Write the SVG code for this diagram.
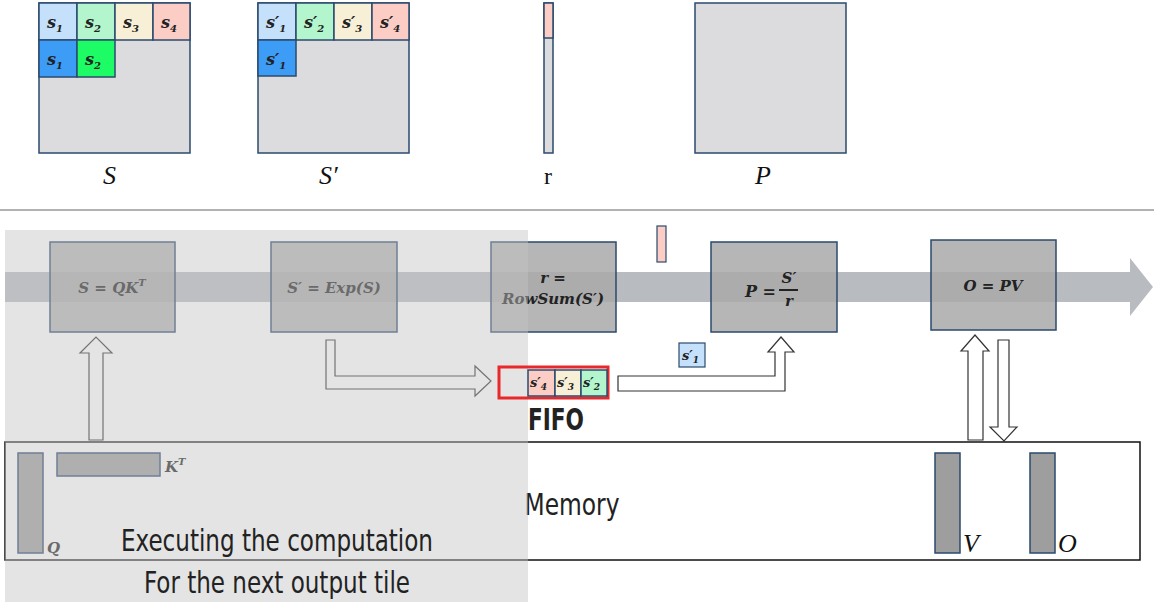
<svg xmlns="http://www.w3.org/2000/svg" width="1154" height="602" viewBox="0 0 1154 602">
<style>
.m{font-family:"DejaVu Serif","Liberation Serif",serif;font-style:italic;font-weight:bold;fill:#222}
.lab{font-family:"Liberation Serif",serif;font-style:italic;font-size:26px;fill:#111}
.cell{stroke:#2b4a6e;stroke-width:1.5}
.mat{fill:#dcdcde;stroke:#2b4a6e;stroke-width:1.5}
.box{fill:#a9a9a9;fill-opacity:0.85;stroke:#2b4a6e;stroke-width:1.5}
.hol{fill:#fff;stroke:#333;stroke-width:1.2}
.bar{fill:#9e9e9e;stroke:#2b4a6e;stroke-width:1.5}
.cond{font-family:"DejaVu Sans Condensed","Liberation Sans Narrow","Liberation Sans",sans-serif;fill:#222}
</style>
<rect width="1154" height="602" fill="#fff"/>
<g id="matS">
<rect class="mat" x="39" y="3" width="151" height="150"/>
<rect class="cell" x="39" y="3" width="38" height="37" fill="#c5e0fb"/>
<rect class="cell" x="77" y="3" width="38" height="37" fill="#b3f5cc"/>
<rect class="cell" x="115" y="3" width="38" height="37" fill="#f7f0d6"/>
<rect class="cell" x="153" y="3" width="37" height="37" fill="#fbcdc5"/>
<rect class="cell" x="39" y="40" width="38" height="37" fill="#3d9cf5"/>
<rect class="cell" x="77" y="40" width="38" height="37" fill="#1dfc64"/>
<text class="m" font-size="16" x="47" y="28">s<tspan font-size="10" dy="4">1</tspan></text>
<text class="m" font-size="16" x="85" y="28">s<tspan font-size="10" dy="4">2</tspan></text>
<text class="m" font-size="16" x="123" y="28">s<tspan font-size="10" dy="4">3</tspan></text>
<text class="m" font-size="16" x="161" y="28">s<tspan font-size="10" dy="4">4</tspan></text>
<text class="m" font-size="16" x="47" y="65">s<tspan font-size="10" dy="4">1</tspan></text>
<text class="m" font-size="16" x="85" y="65">s<tspan font-size="10" dy="4">2</tspan></text>
<text class="lab" x="103" y="184">S</text>
</g>
<g id="matSp">
<rect class="mat" x="258" y="3" width="151" height="150"/>
<rect class="cell" x="258" y="3" width="38" height="37" fill="#c5e0fb"/>
<rect class="cell" x="296" y="3" width="38" height="37" fill="#b3f5cc"/>
<rect class="cell" x="334" y="3" width="38" height="37" fill="#f7f0d6"/>
<rect class="cell" x="372" y="3" width="37" height="37" fill="#fbcdc5"/>
<rect class="cell" x="258" y="40" width="38" height="36" fill="#3d9cf5"/>
<text class="m" font-size="16" x="266" y="28">s′<tspan font-size="10" dy="4">1</tspan></text>
<text class="m" font-size="16" x="304" y="28">s′<tspan font-size="10" dy="4">2</tspan></text>
<text class="m" font-size="16" x="342" y="28">s′<tspan font-size="10" dy="4">3</tspan></text>
<text class="m" font-size="16" x="380" y="28">s′<tspan font-size="10" dy="4">4</tspan></text>
<text class="m" font-size="16" x="266" y="65">s′<tspan font-size="10" dy="4">1</tspan></text>
<text class="lab" x="319" y="184">S′</text>
</g>
<g id="matR">
<rect class="mat" x="544" y="3" width="9" height="150"/>
<rect class="cell" x="544" y="3" width="9" height="35" fill="#fbcdc5"/>
<text x="548" y="184" font-family="Liberation Serif,serif" font-size="24" text-anchor="middle" fill="#111">r</text>
</g>
<g id="matP">
<rect class="mat" x="695" y="3" width="151" height="150"/>
<text class="lab" x="755" y="184">P</text>
</g>
<line x1="0" y1="210" x2="1154" y2="210" stroke="#999" stroke-width="1.5"/>
<g id="pipeline">
<path d="M5,272 H1130 V258 L1153,287 L1130,316 V302 H5 Z" fill="#b8bcc1"/>
</g>
<g id="nodeQK"><rect class="box" x="50" y="242" width="125" height="90"/><text class="m" font-size="15" x="112" y="293" text-anchor="middle">S = QK<tspan font-size="10" dy="-7">T</tspan></text></g>
<g id="nodeExp"><rect class="box" x="271" y="242" width="126" height="90"/><text class="m" font-size="15" x="334" y="293" text-anchor="middle">S′ = Exp(S)</text></g>
<g id="nodeR"><rect class="box" x="491" y="242" width="125" height="90"/><text class="m" font-size="15" x="553" y="283" text-anchor="middle">r =</text><text class="m" font-size="15" x="553" y="304" text-anchor="middle">RowSum(S′)</text></g>
<g id="nodeP"><rect class="box" x="711" y="242" width="126" height="90"/><text class="m" font-size="16" x="745" y="297">P =</text><text class="m" font-size="15" x="789" y="283" text-anchor="middle">S′</text><line x1="779" y1="290" x2="798" y2="290" stroke="#222" stroke-width="2"/><text class="m" font-size="15" x="789" y="306" text-anchor="middle">r</text></g>
<g id="nodeO"><rect class="box" x="931" y="240" width="125" height="90"/><text class="m" font-size="15" x="993" y="291" text-anchor="middle">O = PV</text></g>
<rect x="657" y="226" width="9" height="36" fill="#fbcdc5" stroke="#2b4a6e" stroke-width="1.2"/>
<g id="connectors">
<path class="hol" d="M89,440 V353 H80 L96,337 L112,353 H103 V440 Z"/>
<path class="hol" d="M326,340 H335 V376 H475 V366 L491,381 L475,396 V389 H326 Z"/>
<path class="hol" d="M618,376 H775 V352 H768 L781,337 L794,352 H785 V391 H618 Z"/>
<path class="hol" d="M968,440 V351 H961 L975,335 L989,351 H983 V440 Z"/>
<path class="hol" d="M998,340 H1009 V427 H1017 L1004,441 L990,427 H998 Z"/>
</g>
<g id="s1"><rect x="679" y="343" width="26" height="24" fill="#c5e0fb" stroke="#2b4a6e" stroke-width="1.2"/><text class="m" font-size="13" x="682" y="360">s′<tspan font-size="9" dy="3">1</tspan></text></g>
<g id="memory">
<rect x="5" y="442" width="1135" height="118" fill="none" stroke="#111" stroke-width="1.5"/>
<rect class="bar" x="18" y="453" width="25" height="100"/>
<rect class="bar" x="57" y="453" width="103" height="23"/>
<rect class="bar" x="935" y="453" width="25" height="100"/>
<rect class="bar" x="1030" y="453" width="25" height="100"/>
<text class="m" font-size="15" x="47" y="553">Q</text>
<text class="m" font-size="15" x="165" y="472">K<tspan font-size="10" dy="-7">T</tspan></text>
<text class="lab" font-size="17" x="963" y="552">V</text>
<text class="lab" font-size="17" x="1058" y="552">O</text>
<text class="cond" x="572" y="515" font-size="31" text-anchor="middle" textLength="95" lengthAdjust="spacingAndGlyphs">Memory</text>
</g>
<g id="shade">
<rect x="5" y="230" width="523" height="372" fill="#c4c4c4" fill-opacity="0.45"/>
<text class="cond" x="121" y="551" font-size="31" textLength="312" lengthAdjust="spacingAndGlyphs">Executing the computation</text>
<text class="cond" x="144" y="593" font-size="31" textLength="266" lengthAdjust="spacingAndGlyphs">For the next output tile</text>
</g>
<g id="fifo">
<rect x="499" y="367" width="109" height="31" fill="none" stroke="#e8282a" stroke-width="3"/>
<rect class="cell" x="528" y="370" width="27" height="26" fill="#fbcdc5"/>
<rect class="cell" x="555" y="370" width="26" height="26" fill="#f7f0d6"/>
<rect class="cell" x="581" y="370" width="26" height="26" fill="#b3f5cc"/>
<text class="m" font-size="13" x="530" y="387">s′<tspan font-size="9" dy="3">4</tspan></text>
<text class="m" font-size="13" x="557" y="387">s′<tspan font-size="9" dy="3">3</tspan></text>
<text class="m" font-size="13" x="583" y="387">s′<tspan font-size="9" dy="3">2</tspan></text>
<text class="cond" x="528" y="430" font-size="30" font-weight="bold" fill="#000" textLength="56" lengthAdjust="spacingAndGlyphs">FIFO</text>
</g>
</svg>
